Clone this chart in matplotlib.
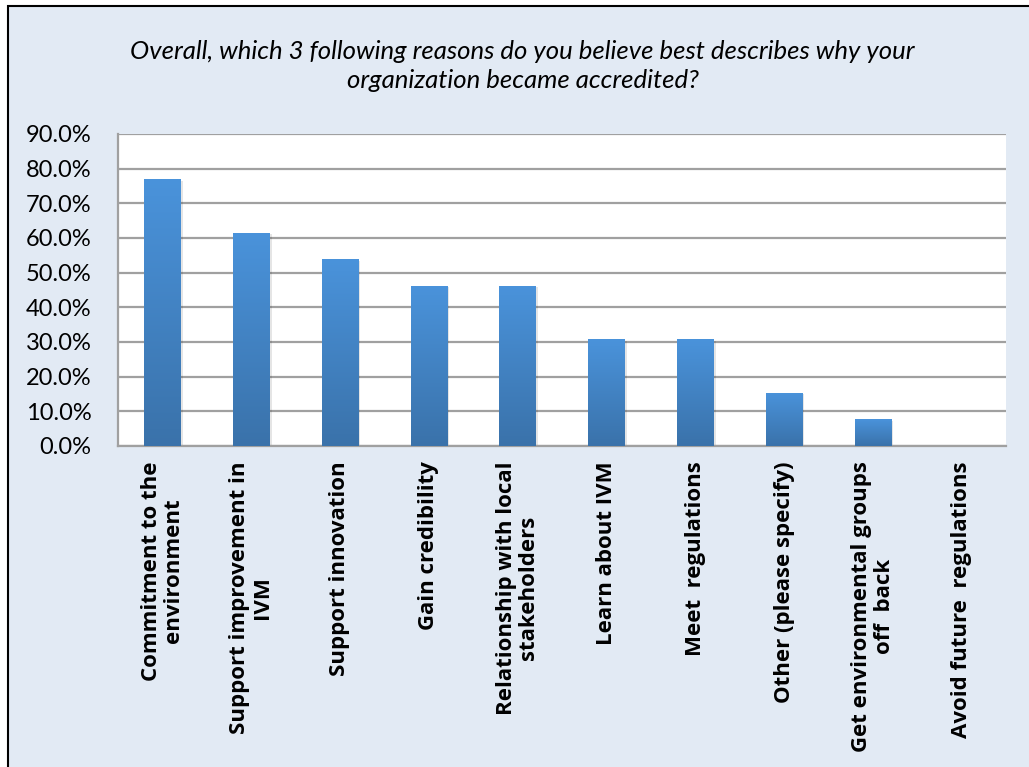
import numpy as np
import matplotlib
matplotlib.use("Agg")
import matplotlib.pyplot as plt
from matplotlib.patches import Rectangle
from matplotlib.ticker import FuncFormatter

categories = [
    "Commitment to the\nenvironment",
    "Support improvement in\nIVM",
    "Support innovation",
    "Gain credibility",
    "Relationship with local\nstakeholders",
    "Learn about IVM",
    "Meet  regulations",
    "Other (please specify)",
    "Get environmental groups\noff  back",
    "Avoid future  regulations",
]
values = [76.9, 61.5, 53.8, 46.2, 46.2, 30.8, 30.8, 15.4, 7.7, 0.0]
yticks = [0, 10, 20, 30, 40, 50, 60, 70, 80, 90]
question = "Overall, which 3 following reasons do you believe best describes why your\norganization became accredited?"

plt.rcParams['font.family'] = ['Lato', 'DejaVu Sans']

fig = plt.figure(figsize=(10.29, 7.67), dpi=100)
fig.patch.set_facecolor('white')

# chart background frame
frame = Rectangle((8 / 1029, -0.05), 1.1, 1.05 - 6 / 767, transform=fig.transFigure,
                  facecolor='#E2EAF4', edgecolor='black', linewidth=1.5, zorder=-5)
fig.patches.append(frame)

fig.text(0.508, 1 - 66 / 767, question, ha='center', va='center', fontsize=18.5,
         style='italic', linespacing=1.3)

ax = fig.add_axes([118 / 1029, 1 - 446 / 767, (1006 - 118) / 1029, (446 - 134) / 767])
ax.set_facecolor('white')

x = np.arange(len(categories))
bars = ax.bar(x, values, width=0.41, color='none', zorder=3)

# vertical gradient inside each bar
grad = np.linspace(0, 1, 256).reshape(-1, 1)
cmap = matplotlib.colors.LinearSegmentedColormap.from_list('bar', ['#3A72AA', '#4A93DB'])
for b in bars:
    if b.get_height() <= 0:
        continue
    bx, by = b.get_x(), b.get_y()
    w, h = b.get_width(), b.get_height()
    # soft shadow
    ax.add_patch(Rectangle((bx + 0.025, by), w, h - 0.4, facecolor='#000000', alpha=0.10,
                           edgecolor='none', zorder=2))
    im = ax.imshow(grad, extent=(bx, bx + w, by, by + h), origin='lower', cmap=cmap,
                   aspect='auto', zorder=3)
    im.set_clip_path(b)

ax.set_xlim(-0.5, len(categories) - 0.5)
ax.set_ylim(0, 90)
ax.set_yticks(yticks)
ax.yaxis.set_major_formatter(FuncFormatter(lambda v, p: f"{v:.1f}%"))
ax.yaxis.grid(True, color='#A0A0A0', linewidth=1.6, zorder=1)
ax.set_axisbelow(True)

ax.set_xticks(x)
ax.set_xticklabels(categories, rotation=90, ha='center', va='top', multialignment='center',
                   fontsize=16, fontweight='bold', family=['Open Sans', 'DejaVu Sans'],
                   linespacing=1.1)
ax.tick_params(axis='y', length=0, pad=19, labelsize=17)
ax.tick_params(axis='x', length=0, pad=11)

for s in ['top', 'right']:
    ax.spines[s].set_visible(False)
for s in ['left', 'bottom']:
    ax.spines[s].set_color('#A0A0A0')
    ax.spines[s].set_linewidth(1.6)

fig.savefig('out.png', dpi=100, facecolor=fig.get_facecolor())
